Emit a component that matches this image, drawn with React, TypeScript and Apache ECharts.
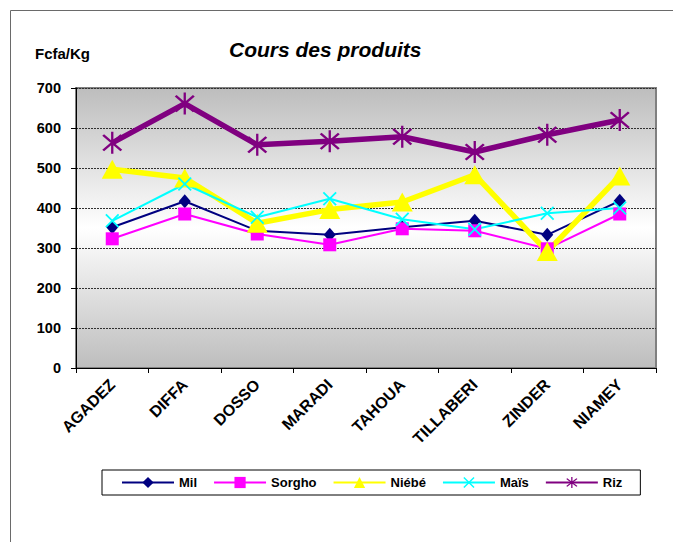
import React, { useEffect, useRef } from "react";
import * as echarts from "echarts";

const categories = ["AGADEZ", "DIFFA", "DOSSO", "MARADI", "TAHOUA", "TILLABERI", "ZINDER", "NIAMEY"];
const milValues = [352, 417, 343, 333, 352, 368, 333, 418];
const sorghoValues = [323, 385, 335, 308, 348, 343, 298, 385];
const niebeValues = [497, 475, 362, 396, 415, 483, 291, 480];
const maisValues = [368, 460, 377, 423, 372, 347, 387, 400];
const rizValues = [563, 661, 558, 567, 578, 540, 583, 620];
const yTicks = { min: 0, max: 700, interval: 100 };

const FONT = "'Liberation Sans', Arial, sans-serif";

const X_PATH =
  "path://M3.64 2.22 L17.78 16.36 L16.36 17.78 L2.22 3.64 Z M16.36 2.22 L17.78 3.64 L3.64 17.78 L2.22 16.36 Z";
const STAR_PATH =
  "path://M9.1 0 L10.9 0 L10.9 20 L9.1 20 Z M3.64 2.22 L17.78 16.36 L16.36 17.78 L2.22 3.64 Z M16.36 2.22 L17.78 3.64 L3.64 17.78 L2.22 16.36 Z";

export default function App() {
  const ref = useRef<HTMLDivElement>(null);
  useEffect(() => {
    document.body.style.margin = "0";
    const chart = echarts.init(ref.current!, null, { renderer: "svg" });
    const mk = (name: string, data: number[], color: string, width: number, symbol: string, size: any) => ({
      name,
      type: "line",
      data,
      symbol,
      symbolSize: size,
      showAllSymbol: true,
      lineStyle: { color, width },
      itemStyle: { color, borderWidth: 0 },
      emphasis: { disabled: true },
    });
    chart.setOption({
      animation: false,
      backgroundColor: "#ffffff",
      textStyle: { fontFamily: FONT },
      graphic: [
        {
          type: "rect",
          shape: { x: 10.5, y: 10.5, width: 720, height: 600 },
          style: { fill: "none", stroke: "#6a6a6a", lineWidth: 1 },
          silent: true,
          z: -10,
        },
        {
          type: "text",
          left: 35,
          top: 46,
          style: { text: "Fcfa/Kg", font: `bold 15px ${FONT}`, fill: "#000" },
        },
      ],
      title: {
        text: "Cours des produits",
        left: 229,
        top: 39,
        padding: 0,
        textStyle: { fontFamily: FONT, fontSize: 21, fontWeight: "bold", fontStyle: "italic", color: "#000" },
      },
      legend: {
        left: 102,
        top: 470,
        orient: "horizontal",
        padding: [6, 18, 6, 19],
        itemGap: 16,
        itemWidth: 52,
        itemHeight: 14,
        borderColor: "#000",
        borderWidth: 1,
        borderRadius: 0,
        textStyle: { fontFamily: FONT, fontSize: 13, fontWeight: "bold", color: "#000", padding: [0, 0, 0, 0] },
        data: ["Mil", "Sorgho", "Niébé", "Maïs", "Riz"],
      },
      grid: {
        left: 76,
        right: 17,
        top: 88,
        bottom: 174,
        show: true,
        borderColor: "#808080",
        borderWidth: 2,
        backgroundColor: new echarts.graphic.LinearGradient(0, 0, 0, 1, [
          { offset: 0, color: "#bdbdbd" },
          { offset: 0.5, color: "#ffffff" },
          { offset: 1, color: "#bdbdbd" },
        ]),
      },
      xAxis: {
        type: "category",
        data: categories,
        boundaryGap: true,
        axisLine: { show: true, lineStyle: { color: "#000", width: 1 } },
        axisTick: { show: true, length: 5, lineStyle: { color: "#000" } },
        axisLabel: {
          rotate: 45,
          interval: 0,
          margin: 14,
          fontFamily: FONT,
          fontSize: 16,
          fontWeight: "bold",
          color: "#000",
        },
        splitLine: { show: false },
      },
      yAxis: {
        type: "value",
        min: yTicks.min,
        max: yTicks.max,
        interval: yTicks.interval,
        axisLine: { show: true, lineStyle: { color: "#000", width: 1 } },
        axisTick: { show: true, length: 5, lineStyle: { color: "#000" } },
        axisLabel: { margin: 15, fontFamily: FONT, fontSize: 14.5, fontWeight: "bold", color: "#000" },
        splitLine: { show: true, lineStyle: { color: "#303030", type: [2, 1], width: 1 } },
      },
      series: [
        mk("Mil", milValues, "#000080", 2, "diamond", [12, 14]),
        mk("Sorgho", sorghoValues, "#ff00ff", 2, "rect", 13),
        mk("Niébé", niebeValues, "#ffff00", 5.5, "triangle", [21, 19]),
        mk("Maïs", maisValues, "#00ffff", 2, X_PATH, 14),
        mk("Riz", rizValues, "#800080", 5.5, STAR_PATH, [20, 22]),
      ],
    });
    return () => chart.dispose();
  }, []);
  return <div ref={ref} style={{ width: 673, height: 542, position: "absolute", left: 0, top: 0 }} />;
}
